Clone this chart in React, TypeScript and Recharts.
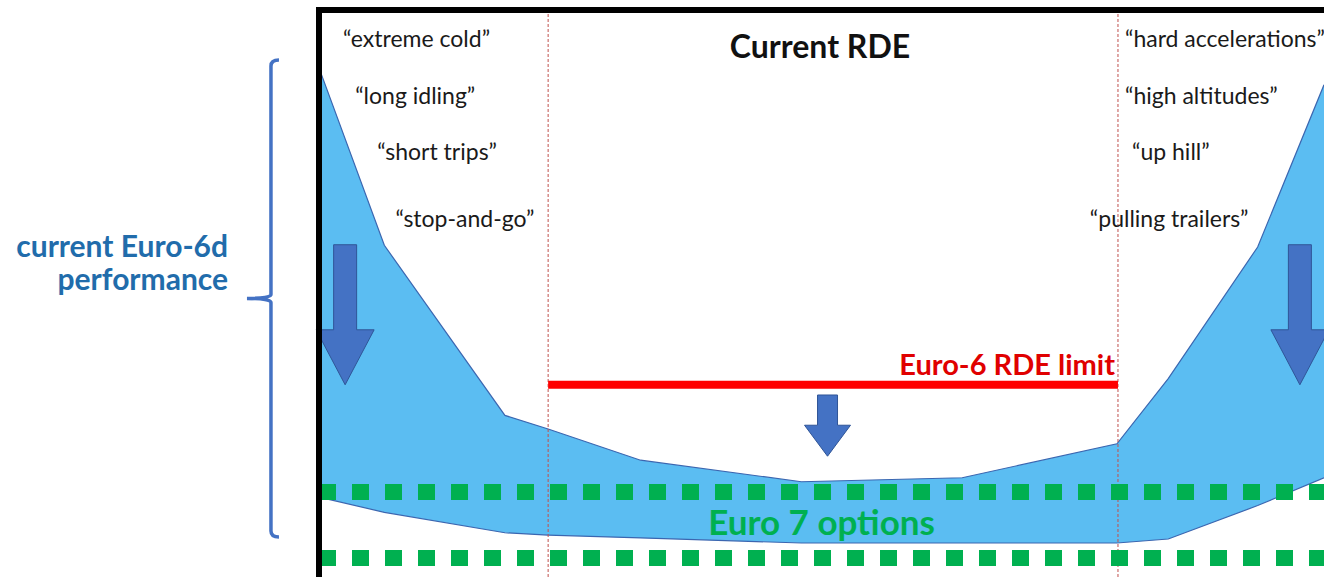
import {Area, ComposedChart, ReferenceDot, ReferenceLine, XAxis, YAxis} from 'recharts';

const FONT = 'Lato, "Open Sans", sans-serif';

// emission band across the range of driving conditions (x: 0..100, y: 0..100)
const bandX = [0, 6.5, 18.5, 22.8, 32, 48, 64, 79.4, 84.5, 93.4, 100];
const bandHigh = [89.8, 58.5, 28.5, 26.1, 20.6, 16.8, 17.5, 23.5, 35, 58.2, 86.8];
const bandLow = [14.1, 11.4, 7.8, 7.4, 6.9, 6.0, 6.0, 6.0, 6.7, 12.6, 17.5];

const rdeBounds = [22.8, 79.5];
const euro6Limit = 33.9;
const euro7Options = [15.0, 3.35];

const arrowX = [2.6, 97.6, 50.6];
const arrowFrom = [58.6, 58.6, 32.1];
const arrowTo = [33.9, 33.9, 21.3];

const leftConditions = ['“extreme cold”', '“long idling”', '“short trips”', '“stop-and-go”'];
const leftConditionX = [2.4, 3.6, 5.8, 7.6];
const rightConditions = ['“hard accelerations”', '“high altitudes”', '“up hill”', '“pulling trailers”'];
const rightConditionX = [80.2, 80.2, 80.9, 76.7];
const conditionY = [93.5, 83.4, 73.5, 61.7];

const bracketX = -4.78;
const bracketRange = [91.2, 7.05];

const data = bandX.map((x, i) => ({x, band: [bandLow[i], bandHigh[i]]}));

const BLUE = '#5BBDF2';
const ARROW = '#4472C4';
const GREEN = '#00B050';
const LABEL_BLUE = '#216CAB';

function arrowShape(big: boolean) {
    const sw = big ? 23 : 20;
    const hw = big ? 58 : 46;
    const hh = big ? 55 : 31;
    return (props: any) => {
        const x = props.x1;
        const y1 = Math.min(props.y1, props.y2);
        const y2 = Math.max(props.y1, props.y2);
        const pts = [
            [x - sw / 2, y1],
            [x + sw / 2, y1],
            [x + sw / 2, y2 - hh],
            [x + hw / 2, y2 - hh],
            [x, y2],
            [x - hw / 2, y2 - hh],
            [x - sw / 2, y2 - hh],
        ]
            .map((p) => p.join(','))
            .join(' ');
        return <polygon points={pts} fill={ARROW} stroke="#2F5597" strokeWidth={1}/>;
    };
}

function textShape(value: string, opts: {size: number; weight?: number; color?: string; anchor?: string}) {
    return (props: any) => (
        <text
            x={props.cx}
            y={props.cy}
            fontFamily={FONT}
            fontSize={opts.size}
            fontWeight={opts.weight ?? 400}
            fill={opts.color ?? '#1a1a1a'}
            textAnchor={opts.anchor ?? 'start'}
        >
            {value}
        </text>
    );
}

function bracketShape(props: any) {
    const x = props.x1;
    const top = Math.min(props.y1, props.y2);
    const bottom = Math.max(props.y1, props.y2);
    const mid = (top + bottom) / 2;
    const d = `M ${x + 8} ${top} Q ${x} ${top} ${x} ${top + 6} L ${x} ${mid - 4} Q ${x} ${mid} ${x - 24} ${mid} Q ${x} ${mid} ${x} ${mid + 4} L ${x} ${bottom - 6} Q ${x} ${bottom} ${x + 8} ${bottom}`;
    return <path d={d} fill="none" stroke="#4472C4" strokeWidth={3.5}/>;
}

export default function App() {
    return (
        <div style={{position: 'absolute', left: 0, top: 0, width: 1324, height: 580, background: '#fff'}}>
            <ComposedChart
                width={1324}
                height={580}
                data={data}
                margin={{top: 10, right: 0, bottom: 3, left: 319}}
            >
                <XAxis type="number" dataKey="x" domain={[0, 100]} hide/>
                <YAxis type="number" domain={[0, 100]} hide/>
                <Area
                    type="linear"
                    dataKey="band"
                    fill={BLUE}
                    fillOpacity={1}
                    stroke="#3B66B0"
                    strokeWidth={1.2}
                    isAnimationActive={false}
                />
                {rdeBounds.map((x) => (
                    <ReferenceLine key={`b${x}`} x={x} stroke="#C0504D" strokeWidth={1} strokeDasharray="3 2"/>
                ))}
                <ReferenceLine
                    segment={[{x: rdeBounds[0], y: euro6Limit}, {x: rdeBounds[1], y: euro6Limit}]}
                    stroke="#FF0000"
                    strokeWidth={8}
                />
                {euro7Options.map((y) => (
                    <ReferenceLine key={`g${y}`} y={y} stroke={GREEN} strokeWidth={16} strokeDasharray="17 16"/>
                ))}
                {arrowX.map((x, i) => (
                    <ReferenceLine
                        key={`a${i}`}
                        segment={[{x, y: arrowFrom[i]}, {x, y: arrowTo[i]}]}
                        ifOverflow="visible"
                        shape={arrowShape(i < 2)}
                    />
                ))}
                {leftConditions.map((t, i) => (
                    <ReferenceDot key={t} x={leftConditionX[i]} y={conditionY[i]} r={0} ifOverflow="visible"
                                  shape={textShape(t, {size: 23})}/>
                ))}
                {rightConditions.map((t, i) => (
                    <ReferenceDot key={t} x={rightConditionX[i]} y={conditionY[i]} r={0} ifOverflow="visible"
                                  shape={textShape(t, {size: 23})}/>
                ))}
                <ReferenceDot x={49.85} y={91.5} r={0} ifOverflow="visible"
                              shape={textShape('Current RDE', {size: 32, weight: 700, anchor: 'middle', color: '#111'})}/>
                <ReferenceDot x={79.2} y={35.6} r={0} ifOverflow="visible"
                              shape={textShape('Euro-6 RDE limit', {size: 29, weight: 700, anchor: 'end', color: '#E00000'})}/>
                <ReferenceDot x={50.0} y={7.4} r={0} ifOverflow="visible"
                              shape={textShape('Euro 7 options', {size: 35, weight: 700, anchor: 'middle', color: GREEN})}/>
                <ReferenceDot x={-9.05} y={56.4} r={0} ifOverflow="visible"
                              shape={textShape('current Euro-6d', {size: 30, weight: 700, anchor: 'end', color: LABEL_BLUE})}/>
                <ReferenceDot x={-9.05} y={50.6} r={0} ifOverflow="visible"
                              shape={textShape('performance', {size: 30, weight: 700, anchor: 'end', color: LABEL_BLUE})}/>
                <ReferenceLine
                    segment={[{x: bracketX, y: bracketRange[0]}, {x: bracketX, y: bracketRange[1]}]}
                    ifOverflow="visible"
                    shape={bracketShape}
                />
                <ReferenceLine x={0} stroke="#000" strokeWidth={6} ifOverflow="visible"/>
                <ReferenceLine y={100} stroke="#000" strokeWidth={6} strokeLinecap="square" ifOverflow="visible"/>
            </ComposedChart>
        </div>
    );
}
